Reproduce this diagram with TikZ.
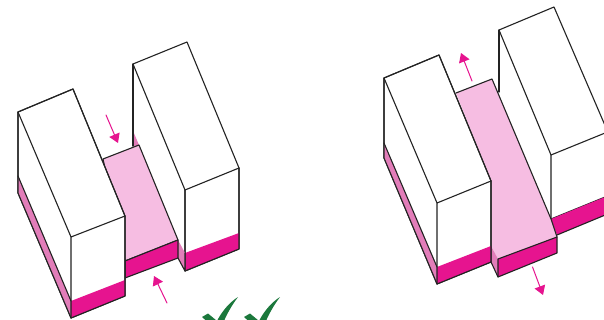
\documentclass[tikz,border=0pt]{standalone}
\usetikzlibrary{arrows.meta}
\definecolor{fg}{RGB}{35,35,35}
\definecolor{deep}{RGB}{230,20,143}
\definecolor{soft}{RGB}{246,189,226}
\definecolor{side}{RGB}{226,125,185}
\definecolor{tick}{RGB}{27,120,60}
\tikzset{
  every picture/.style={fg, line width=0.9pt, line cap=round, line join=round},
  % Linien und Flächen
  edge/.style={fg, line width=1.1pt},
  front/.style={fill=deep},
  road/.style={fill=soft},
  flank/.style={fill=side},
  % Pfeile
  move/.style={deep, line width=1pt, -{Triangle[length=9pt,width=11pt]}},
  tickmark/.style={fill=tick, draw=none},
}
\begin{document}
\begin{tikzpicture}[x=1pt,y=-1pt]
  \useasboundingbox (0,0) rectangle (604,320);
  \clip (0,0) rectangle (604,320);
  \fill[white] (0,0) rectangle (604,320);

  % linke Gruppe: rechter Block zuerst
  \draw[edge, fill=white] (133,64) -- (187,42) -- (239,168) -- (239,249) -- (185,271) -- (185,190) -- (133,64) -- (133,146);
  \fill[flank] (133,131) -- (139,145) -- (133,148) -- cycle;
  \draw[edge] (133,64) -- (133,146);
  \draw[edge] (185,190) -- (239,168);
  \fill[front] (185,253) -- (239,233) -- (239,249) -- (185,271) -- cycle;
  \draw[edge] (185,190) -- (185,271) -- (239,249) -- (239,168);
  % Durchgang mit Vorderkante
  \fill[flank] (178,240) -- (185,253) -- (185,271) -- (178,258) -- cycle;
  \draw[edge] (178,258) -- (185,271) -- (185,253);
  \draw[edge, road] (103,159) -- (139,145) -- (178,240) -- (125,261) -- cycle;
  \draw[edge, front] (125,261) -- (178,240) -- (178,258) -- (125,278) -- cycle;
  % linker Block
  \draw[edge, fill=white] (18,112) -- (73,89) -- (125,216) -- (125,296) -- (71,318) -- (18,193) -- cycle;
  \fill[flank] (18,176) -- (71,301) -- (71,318) -- (18,193) -- cycle;
  \fill[front] (71,301) -- (125,280) -- (125,296) -- (71,318) -- cycle;
  \draw[edge] (18,112) -- (73,89) -- (125,216) -- (125,296) -- (71,318) -- (18,193) -- cycle;
  \draw[edge] (18,112) -- (71,237) -- (125,216) (71,237) -- (71,318);
  \draw[edge] (18,176) -- (71,301);
  \draw[move] (106,115) -- (118,143);
  \draw[move] (167,303) -- (154,276);

  % rechte Gruppe: hinterer Block
  \draw[edge, fill=white] (499,30) -- (554,7) -- (610,137) -- (610,195) -- (551,219) -- (551,155) -- cycle;
  \draw[edge] (551,155) -- (610,131);
  \fill[front] (551,219) -- (610,195) -- (610,213) -- (557,235) -- cycle;
  \draw[edge] (557,235) -- (610,213);
  \draw[edge] (499,30) -- (499,92);
  % Durchgang, nach vorn verlängert
  \fill[road] (456,93) -- (492,79) -- (551,219) -- (557,237) -- (498,259) -- (491,246) -- (491,181) -- cycle;
  \fill[flank] (491,246) -- (498,259) -- (498,277) -- (491,262) -- cycle;
  \draw[edge] (456,93) -- (492,79) -- (551,219) -- (557,237);
  \draw[edge, front] (498,259) -- (557,237) -- (557,253) -- (498,277) -- cycle;
  % vorderer Block
  \draw[edge, fill=white] (384,78) -- (439,55) -- (491,181) -- (491,262) -- (437,284) -- (384,158) -- cycle;
  \fill[flank] (384,143) -- (437,267) -- (437,284) -- (384,158) -- cycle;
  \fill[front] (437,267) -- (491,246) -- (491,262) -- (437,284) -- cycle;
  \draw[edge] (384,78) -- (439,55) -- (491,181) -- (491,262) -- (437,284) -- (384,158) -- cycle;
  \draw[edge] (384,78) -- (437,203) -- (491,181) (437,203) -- (437,284);
  \draw[edge] (384,143) -- (437,267);
  \draw[edge] (491,262) -- (498,277);
  \draw[move] (472,81) -- (461,53);
  \draw[move] (532.5,267) -- (543,295);

  % Haken, unten angeschnitten
  \foreach \dx in {0,42} {
    \fill[tickmark, xshift=\dx pt] (202,317) -- (208,313.5) -- (217,321) .. controls (222,311) and (230,302) .. (238,297)
      .. controls (232,305) and (226,315) .. (222,326) -- (212,326) -- cycle;
  }
\end{tikzpicture}
\end{document}
